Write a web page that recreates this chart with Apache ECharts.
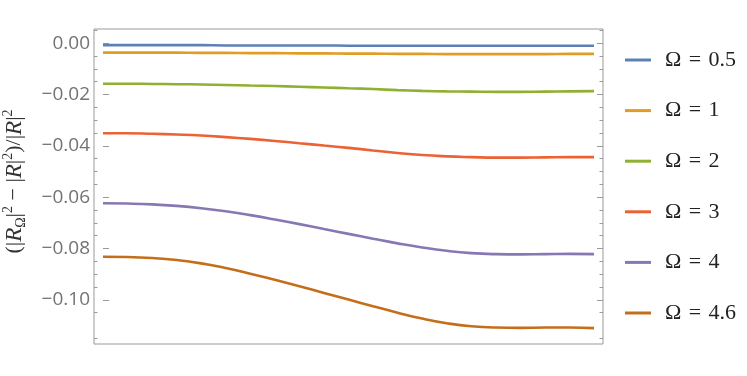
<!DOCTYPE html>
<html>
<head>
<meta charset="utf-8">
<script src="https://cdn.jsdelivr.net/npm/echarts@6/dist/echarts.min.js"></script>
<style>html,body{margin:0;padding:0;background:#fff}#c{width:747px;height:376px}</style>
</head>
<body>
<div id="c"></div>
<script>
const xs = [0,0.05,0.10,0.15,0.20,0.25,0.30,0.35,0.40,0.45,0.50,0.55,0.60,0.65,0.70,0.75,0.80,0.85,0.90,0.95,1.00];
const seriesNames = ['Ω\u2004=\u20040.5','Ω\u2004=\u20041','Ω\u2004=\u20042','Ω\u2004=\u20043','Ω\u2004=\u20044','Ω\u2004=\u20044.6'];
const omega05 = [-0.0008,-0.0008,-0.0008,-0.0008,-0.0008,-0.0009,-0.0009,-0.0009,-0.0009,-0.0009,-0.0010,-0.0010,-0.0010,-0.0010,-0.0010,-0.0010,-0.0010,-0.0010,-0.0010,-0.0010,-0.0010];
const omega1 = [-0.0037,-0.0037,-0.0037,-0.0037,-0.0038,-0.0038,-0.0039,-0.0039,-0.0040,-0.0040,-0.0041,-0.0041,-0.0042,-0.0042,-0.0043,-0.0043,-0.0043,-0.0043,-0.0043,-0.0042,-0.0042];
const omega2 = [-0.0158,-0.0158,-0.0159,-0.0160,-0.0161,-0.0163,-0.0165,-0.0167,-0.0170,-0.0173,-0.0176,-0.0179,-0.0183,-0.0186,-0.0188,-0.0189,-0.0190,-0.0190,-0.0189,-0.0188,-0.0187];
const omega3 = [-0.0351,-0.0351,-0.0353,-0.0356,-0.0360,-0.0366,-0.0373,-0.0381,-0.0390,-0.0399,-0.0408,-0.0418,-0.0428,-0.0436,-0.0441,-0.0444,-0.0446,-0.0446,-0.0445,-0.0444,-0.0444];
const omega4 = [-0.0624,-0.0625,-0.0628,-0.0634,-0.0643,-0.0655,-0.0670,-0.0687,-0.0705,-0.0724,-0.0743,-0.0762,-0.0780,-0.0796,-0.0809,-0.0818,-0.0822,-0.0823,-0.0822,-0.0821,-0.0822];
const omega46 = [-0.0832,-0.0833,-0.0837,-0.0845,-0.0858,-0.0876,-0.0898,-0.0922,-0.0947,-0.0973,-0.0999,-0.1025,-0.1050,-0.1073,-0.1091,-0.1103,-0.1108,-0.1109,-0.1108,-0.1108,-0.1110];
const yMajorTicks = [-0.10,-0.08,-0.06,-0.04,-0.02,0.00];
const yMinorTicks = [-0.115,-0.105,-0.095,-0.09,-0.085,-0.075,-0.07,-0.065,-0.055,-0.05,-0.045,-0.035,-0.03,-0.025,-0.015,-0.01,-0.005,0.005];
const colors = ['#5E81B5','#E19C24','#8FB032','#EB6235','#8778B3','#C56E1A'];
const allSeries = [omega05, omega1, omega2, omega3, omega4, omega46];

const Y_MIN = -0.1172, Y_MAX = 0.0055;
const frameColor = '#999999';
function yAx(pos, ticks, len, labels) {
  return {
    type: 'value', position: pos, min: Y_MIN, max: Y_MAX, offset: 0,
    axisLine: {show: false},
    splitLine: {show: false},
    axisTick: {show: true, inside: true, length: len, customValues: ticks, lineStyle: {color: frameColor, width: 1}},
    axisLabel: labels ? {
      show: true, inside: false, customValues: ticks, margin: 4, color: '#737373', fontSize: 19, fontFamily: 'Open Sans',
      formatter: v => (v < -1e-9 ? '\u2212' : '') + Math.abs(v).toFixed(2)
    } : {show: false}
  };
}
const yaxes = [yAx('left', yMajorTicks, 6, true), yAx('left', yMinorTicks, 3.5, false), yAx('right', yMajorTicks, 6, false), yAx('right', yMinorTicks, 3.5, false)];
yaxes[0].name = '{n|(|}{r|R}{sub|Ω}{n||}{sup|2}{n| − |}{r|R}{n||}{sup|2}{n|)/|}{r|R}{n||}{sup|2}';
yaxes[0].nameLocation = 'middle';
yaxes[0].nameRotate = 90;
yaxes[0].nameGap = 66;
yaxes[0].nameTextStyle = {
  padding: [0, 0, 0, 10],
  rich: {
    n: {fontFamily: 'Liberation Serif', fontSize: 22, color: '#333', lineHeight: 27},
    r: {fontFamily: 'Liberation Serif', fontStyle: 'italic', fontSize: 23, color: '#333', lineHeight: 27},
    sup: {fontFamily: 'Liberation Serif', fontSize: 14, color: '#333', verticalAlign: 'top', lineHeight: 14},
    sub: {fontFamily: 'Liberation Serif', fontSize: 14, color: '#333', verticalAlign: 'bottom', lineHeight: 12}
  }
};

const chart = echarts.init(document.getElementById('c'), null, {renderer: 'canvas'});
chart.setOption({
  animation: false,
  color: colors,
  grid: {left: 94, right: 144, top: 29, bottom: 32, show: true, borderColor: frameColor, borderWidth: 1, backgroundColor: 'transparent', containLabel: false, outerBoundsMode: 'none'},
  xAxis: {type: 'value', min: -0.0183, max: 1.0183, show: false},
  yAxis: yaxes,
  legend: {
    orient: 'vertical', left: 620, top: 43, icon: 'rect', itemWidth: 26, itemHeight: 3, itemGap: 26.6,
    data: seriesNames,
    textStyle: {fontFamily: 'Liberation Serif', fontSize: 22, color: '#222', lineHeight: 24, padding: [0, 0, 0, 9]}
  },
  series: allSeries.map((arr, i) => ({
    name: seriesNames[i], type: 'line', smooth: true, showSymbol: false, yAxisIndex: 0,
    lineStyle: {width: 2.6, color: colors[i]},
    data: xs.map((x, j) => [x, arr[j]])
  }))
});
</script>
</body>
</html>
